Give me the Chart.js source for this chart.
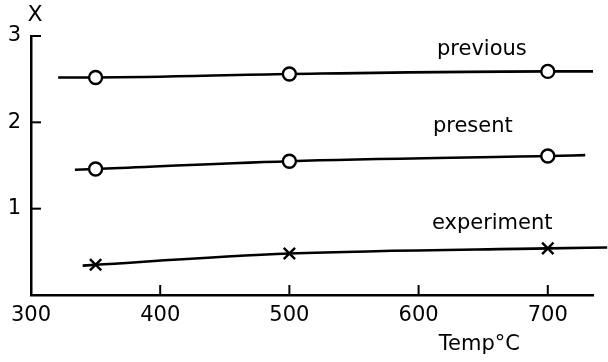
<!DOCTYPE html>
<html>
<head>
<meta charset="utf-8">
<script src="https://cdn.jsdelivr.net/npm/chart.js@4.4.0/dist/chart.umd.min.js"></script>
<style>
  html, body { margin: 0; padding: 0; background: #fff; }
  #wrap { width: 608px; height: 362px; }
</style>
</head>
<body>
<div id="wrap"><canvas id="myChart"></canvas></div>
<script>
// values
const temps = [350, 500, 700];
const previous = [2.52, 2.56, 2.59];
const present = [1.46, 1.55, 1.61];
const experiment = [0.35, 0.48, 0.54];

// where each drawn curve starts and stops (temp, value)
const previousEnds = [[321, 2.52], [735, 2.59]];
const presentEnds = [[334, 1.45], [729, 1.62]];
const experimentEnds = [[340, 0.34], [746, 0.55]];

const xTicks = [300, 400, 500, 600, 700];
const yTicks = [1, 2, 3];

// curve labels (text, temp, value)
const curveLabels = [
	['previous', 649, 2.84],
	['present', 642, 1.95],
	['experiment', 657, 0.83]
];

const FONT = '"DejaVu Sans", sans-serif';

function buildLine(vals, ends)
{
	var pts = [{x: ends[0][0], y: ends[0][1]}];
	for (var i = 0; i < temps.length; i++)
		pts.push({x: temps[i], y: vals[i]});
	pts.push({x: ends[1][0], y: ends[1][1]});
	return pts;
}

function series(vals, ends, style, r)
{
	return {
		data: buildLine(vals, ends),
		borderColor: '#000',
		borderWidth: 2.6,
		cubicInterpolationMode: 'monotone',
		pointStyle: style,
		pointRadius: [0, r, r, r, 0],
		pointBorderWidth: 2.4,
		pointBorderColor: '#000',
		pointBackgroundColor: '#fff',
		clip: false,
		showLine: true,
		fill: false
	};
}

// ticks pointing into the plot, and the free text
const extras = {
	id: 'extras',
	afterDraw(chart) {
		const ctx = chart.ctx;
		const xs = chart.scales.x, ys = chart.scales.y;
		const a = chart.chartArea;
		ctx.save();
		ctx.strokeStyle = '#000';
		ctx.lineWidth = 2;
		yTicks.forEach(v => {
			const py = ys.getPixelForValue(v);
			ctx.beginPath();
			ctx.moveTo(a.left, py);
			ctx.lineTo(a.left + 10, py);
			ctx.stroke();
		});
		xTicks.slice(1).forEach(v => {
			const px = xs.getPixelForValue(v);
			ctx.beginPath();
			ctx.moveTo(px, a.bottom);
			ctx.lineTo(px, a.bottom - 10);
			ctx.stroke();
		});
		ctx.fillStyle = '#000';
		ctx.textAlign = 'center';
		ctx.textBaseline = 'middle';
		ctx.font = '21px ' + FONT;
		curveLabels.forEach(l => {
			ctx.fillText(l[0], xs.getPixelForValue(l[1]), ys.getPixelForValue(l[2]));
		});
		ctx.fillText('Temp°C', xs.getPixelForValue(647), a.bottom + 50);
		ctx.font = '22px ' + FONT;
		ctx.fillText('X', a.left + 4, a.top - 21);
		ctx.restore();
	}
};

const config = {
	type: 'line',
	data: {
		datasets: [
			series(previous, previousEnds, 'circle', 6.5),
			series(present, presentEnds, 'circle', 6.5),
			series(experiment, experimentEnds, 'crossRot', 8)
		]
	},
	options: {
		responsive: false,
		animation: false,
		events: [],
		layout: { padding: { left: 0, top: 36, right: 15, bottom: 0 } },
		plugins: { legend: { display: false }, tooltip: { enabled: false } },
		scales: {
			x: {
				type: 'linear',
				min: 300,
				max: 735,
				afterBuildTicks: s => { s.ticks = xTicks.map(v => ({value: v})); },
				afterFit: s => { s.height = 67; },
				grid: { display: true, drawOnChartArea: false, drawTicks: false },
				border: { color: '#000', width: 2.5 },
				ticks: { color: '#000', padding: 8, maxRotation: 0, font: { family: FONT, size: 21 } }
			},
			y: {
				type: 'linear',
				min: 0,
				max: 3,
				afterBuildTicks: s => { s.ticks = yTicks.map(v => ({value: v})); },
				afterFit: s => { s.width = 31; },
				grid: { display: true, drawOnChartArea: false, drawTicks: false },
				border: { color: '#000', width: 2.5 },
				ticks: { color: '#000', padding: 10, font: { family: FONT, size: 21 } }
			}
		}
	},
	plugins: [extras]
};

const canvas = document.getElementById('myChart');
canvas.width = 608;
canvas.height = 362;
const myChart = new Chart(canvas, config);
</script>
</body>
</html>
